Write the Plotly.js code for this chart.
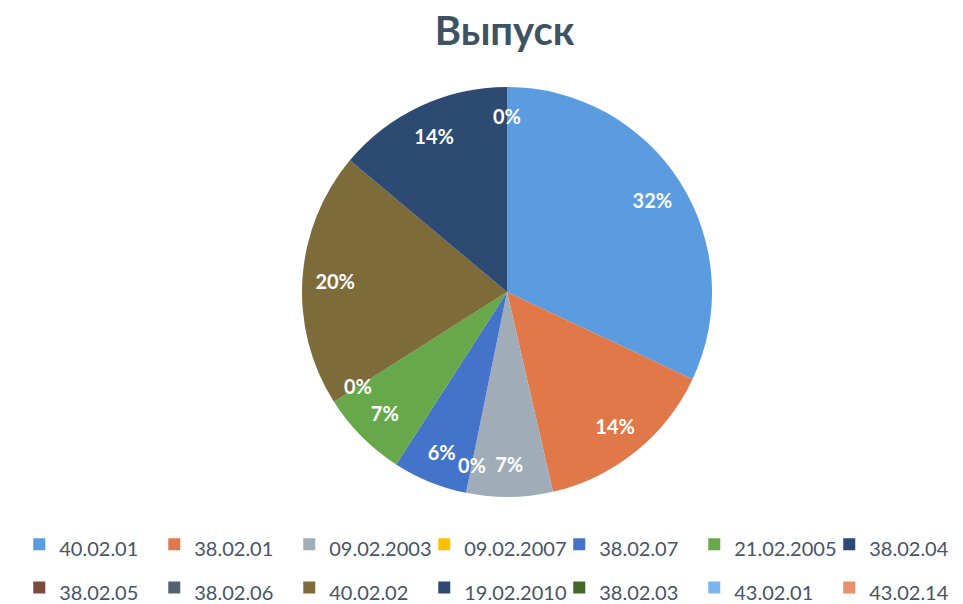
<!DOCTYPE html>
<html>
<head>
<meta charset="utf-8">
<script src="https://cdn.plot.ly/plotly-3.0.1.min.js"></script>
<style>html,body{margin:0;padding:0;background:#fff;}#chart{width:963px;height:604px;}</style>
</head>
<body>
<div id="chart"></div>
<script>
var categories = ["40.02.01","38.02.01","09.02.2003","09.02.2007","38.02.07","21.02.2005","38.02.04","38.02.05","38.02.06","40.02.02","19.02.2010","38.02.03","43.02.01","43.02.14"];
var values = [32, 14.4, 6.8, 0, 5.9, 6.9, 0, 0, 0, 20.1, 13.9, 0, 0, 0];
var showLabel = [true, true, true, true, true, true, true, false, false, true, true, true, false, false];
var colors = ["#5b9be0","#e0784a","#a0adb8","#ffc000","#4474c9","#66a84a","#2c4a78","#7a4a3c","#4f6373","#7d6c3a","#2d4a72","#43682b","#7cb5ec","#e8916a"];

var W = 963, H = 604;
var CX = 507, CY = 292, R = 205;
// pie geometry helper (pixels -> domain)
function dom(cx, cy, r) {
  return {x: [(cx - r) / W, (cx + r) / W], y: [1 - (cy + r) / H, 1 - (cy - r) / H]};
}
var legendNames = categories.map(function(c){ return '<span style="font-size:20px">' + c + '</span>'; });
var transparent = categories.map(function(){ return "rgba(0,0,0,0)"; });
var tplNonZero = values.map(function(v, i){ return (showLabel[i] && v > 0) ? "%{percent:.0%}" : ""; });
var labelFont = {family: "Lato, sans-serif", size: 20, color: "#ffffff", weight: "bold"};

var base = {type: "pie", labels: legendNames, values: values, sort: false, direction: "clockwise", rotation: 0};

var mainPie = Object.assign({}, base, {
  marker: {colors: colors, line: {width: 0}},
  textinfo: "none",
  hoverinfo: "label+percent",
  domain: dom(CX, CY, R),
  showlegend: true
});
var labelRing = Object.assign({}, base, {
  hole: 0.68,
  marker: {colors: transparent, line: {width: 0}},
  texttemplate: tplNonZero,
  textposition: "inside",
  insidetextorientation: "horizontal",
  insidetextfont: labelFont,
  hoverinfo: "skip",
  domain: dom(CX, CY, R),
  showlegend: false
});

// labels of empty (0%) slices: placed at their slice boundary angle
var total = values.reduce(function(a, b){ return a + b; }, 0);
var zeroAnnotations = [];
var cum = 0;
values.forEach(function(v, i){
  if (showLabel[i] && v === 0) {
    var th = cum / total * 2 * Math.PI;
    var rl = 0.86 * R;
    zeroAnnotations.push({
      xref: "paper", yref: "paper",
      x: (CX + rl * Math.sin(th)) / W,
      y: 1 - (CY - rl * Math.cos(th)) / H,
      text: Math.round(v / total * 100) + "%",
      showarrow: false, xanchor: "center", yanchor: "middle",
      font: labelFont
    });
  }
  cum += v;
});

var layout = {
  width: W,
  height: H,
  margin: {l: 0, r: 0, t: 0, b: 0, autoexpand: false},
  paper_bgcolor: "#ffffff",
  title: {text: "<b>Выпуск</b>", x: 0.524, xanchor: "center", y: 0.948, yanchor: "middle",
          font: {family: "Lato, sans-serif", size: 40, color: "#3e5362"}},
  uniformtext: {mode: "show", minsize: 20},
  annotations: zeroAnnotations,
  legend: {orientation: "h", x: 0.02, xanchor: "left", y: 0.143, yanchor: "top",
           entrywidth: 90, entrywidthmode: "pixels", traceorder: "normal",
           font: {family: "Lato, sans-serif", size: 31, color: "#44546a"}}
};

Plotly.newPlot("chart", [mainPie, labelRing], layout, {displayModeBar: false, staticPlot: true});
</script>
</body>
</html>
